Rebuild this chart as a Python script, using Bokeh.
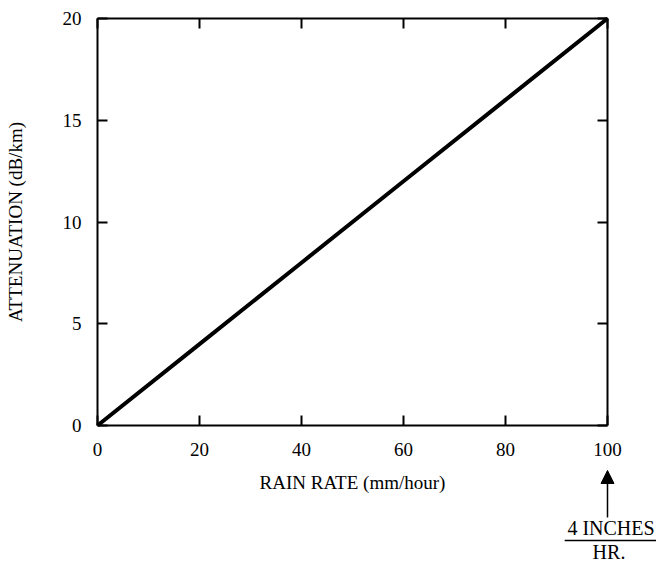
from bokeh.plotting import figure
from bokeh.models import Range1d, LinearAxis, FixedTicker, Label, Arrow, NormalHead
from bokeh.embed import file_html
from bokeh.resources import INLINE

# data
rain_rate = [0, 20, 40, 60, 80, 100]          # mm/hour
attenuation = [0, 4, 8, 12, 16, 20]           # dB/km
x_ticks = [0, 20, 40, 60, 80, 100]
y_ticks = [0, 5, 10, 15, 20]
x_title = "RAIN RATE (mm/hour)"
y_title = "ATTENUATION (dB/km)"
note_top = "4 INCHES"
note_bottom = "HR."
note_x = x_ticks[-1]

FONT = "Liberation Serif"
FS = "19px"
FS_NOTE = "20px"

# layout: the plotting frame fills the whole canvas, the axes are pinned at data
# locations so that the note below the x axis can be drawn without clipping.
W, H = 656, 563
L, R, T, B = 97, 607, 18, 425          # pixel box of the chart area
x0, x1 = x_ticks[0], x_ticks[-1]
y0, y1 = y_ticks[0], y_ticks[-1]
sx = (R - L) / (x1 - x0)
sy = (B - T) / (y1 - y0)
x_range = Range1d(x0 - L / sx, x1 + (W - R) / sx)
y_range = Range1d(y0 - (H - B) / sy, y1 + T / sy)

p = figure(width=W, height=H, output_backend="svg", toolbar_location=None,
           x_range=x_range, y_range=y_range,
           min_border=0, min_border_left=0, min_border_right=0,
           min_border_top=0, min_border_bottom=0)
p.xgrid.visible = False
p.ygrid.visible = False
p.outline_line_color = None
p.background_fill_color = "white"
p.border_fill_color = "white"

p.line(rain_rate, attenuation, line_color="black", line_width=4)

def style(ax, ticks, loc, bounds, labels=True):
    ax.ticker = FixedTicker(ticks=ticks)
    ax.fixed_location = loc
    ax.bounds = bounds
    ax.minor_tick_line_color = None
    ax.major_tick_in = 10
    ax.major_tick_out = 0
    ax.major_tick_line_width = 2
    ax.major_tick_line_color = "black"
    ax.axis_line_width = 2
    ax.axis_line_color = "black"
    ax.major_label_text_font = FONT
    ax.major_label_text_font_size = FS
    ax.major_label_text_color = "black"
    ax.axis_label_text_font = FONT
    ax.axis_label_text_font_size = FS
    ax.axis_label_text_font_style = "normal"
    ax.axis_label_text_color = "black"
    if not labels:
        ax.major_label_overrides = {t: "" for t in ticks}
        ax.major_label_standoff = 0

style(p.xaxis[0], x_ticks, y0, (x0, x1))
style(p.yaxis[0], y_ticks, x0, (y0, y1))
p.xaxis[0].axis_label = x_title
p.yaxis[0].axis_label = y_title
p.xaxis[0].major_label_standoff = 17
p.xaxis[0].axis_label_standoff = 13
p.yaxis[0].major_label_standoff = 16
p.yaxis[0].axis_label_standoff = 34

top_ax = LinearAxis()
right_ax = LinearAxis()
style(top_ax, x_ticks, y1, (x0, x1), labels=False)
style(right_ax, y_ticks, x1, (y0, y1), labels=False)
p.add_layout(top_ax, "above")
p.add_layout(right_ax, "right")

# note below the axis: "4 INCHES / HR." with an arrow pointing up at 100 mm/hour
p.add_layout(Label(x=note_x, y=-5.06, text=note_top, text_align="center", text_baseline="middle",
                   x_offset=3.5, text_font=FONT, text_font_size=FS_NOTE, text_color="black"))
p.add_layout(Label(x=note_x, y=-6.2, text=note_bottom, text_align="center", text_baseline="middle",
                   x_offset=1.5, text_font=FONT, text_font_size=FS_NOTE, text_color="black"))
p.add_layout(Arrow(x_start=note_x - 8.4, y_start=-5.65, x_end=note_x + 9.6, y_end=-5.65,
                   line_color="black", line_width=1.5, start=None, end=None))
p.add_layout(Arrow(x_start=note_x, y_start=-4.52, x_end=note_x, y_end=-2.21,
                   line_color="black", line_width=1.5,
                   end=NormalHead(size=13, fill_color="black", line_color="black", line_width=1)))

open("out.html", "w").write(file_html(p, INLINE))
